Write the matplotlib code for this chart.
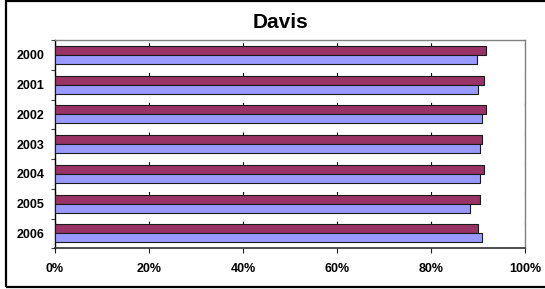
import numpy as np
import matplotlib
matplotlib.use("Agg")
import matplotlib.pyplot as plt
from matplotlib.patches import Rectangle
from matplotlib.ticker import FixedLocator, NullFormatter

plt.rcParams["font.family"] = ["Liberation Sans", "DejaVu Sans"]
plt.rcParams["lines.scale_dashes"] = False

years = ["2000", "2001", "2002", "2003", "2004", "2005", "2006"]
series_a = [91.8, 91.2, 91.7, 90.8, 91.3, 90.5, 89.9]   # maroon, upper bar
series_b = [89.7, 90.1, 90.8, 90.4, 90.4, 88.2, 90.9]   # lavender, lower bar
xticks = [0, 20, 40, 60, 80, 100]
xtick_labels = ["0%", "20%", "40%", "60%", "80%", "100%"]

W, H = 545, 289
fig = plt.figure(figsize=(W / 100, H / 100), dpi=100)
ax = fig.add_axes([55 / W, 1 - 248.3 / H, 470 / W, 208.3 / H])

y = np.arange(len(years))
bh = 0.3
ax.barh(y - bh / 2, series_a, height=bh, color="#993366",
        edgecolor="#1a1a1a", linewidth=0.8, zorder=3)
ax.barh(y + bh / 2, series_b, height=bh, color="#9999FF",
        edgecolor="#1a1a1a", linewidth=0.8, zorder=3)

ax.set_xlim(0, 100)
ax.set_ylim(len(years) - 0.5, -0.5)

ax.set_xticks(xticks)
ax.set_xticklabels(xtick_labels, fontsize=9, fontweight="bold")
ax.tick_params(axis="x", direction="out", length=3.6, width=0.8,
               color="#202020", pad=7)

# category boundaries as major ticks, labels on minor ticks at centres
ax.yaxis.set_major_locator(FixedLocator(np.arange(-0.5, len(years), 1.0)))
ax.yaxis.set_major_formatter(NullFormatter())
ax.yaxis.set_minor_locator(FixedLocator(y))
ax.set_yticklabels(years, minor=True, fontsize=9, fontweight="bold")
ax.tick_params(axis="y", which="major", direction="out", length=2.6,
               width=0.8, color="#404040")
ax.tick_params(axis="y", which="minor", length=0, pad=7.7)

# dashed vertical gridlines, visible only just below each category edge
ax.grid(axis="x", color="#000000", linewidth=0.8,
        linestyle=(5.0, (2.9, 18.5)), zorder=1)

ax.spines["left"].set_color("#000000")
ax.spines["left"].set_linewidth(1.0)
ax.spines["bottom"].set_color("#303030")
ax.spines["bottom"].set_linewidth(1.2)
for side in ("top", "right"):
    ax.spines[side].set_color("#808080")
    ax.spines[side].set_linewidth(1.0)

fig.text(280 / W, 1 - 23 / H, "Davis", ha="center", va="center",
         fontsize=15, fontweight="bold")

# outer chart frame (right edge is cut off in the original)
fig.patches.append(Rectangle((6 / W, 1 - 286.5 / H), 560 / W, 285.2 / H,
                             transform=fig.transFigure, fill=False,
                             edgecolor="black", linewidth=1.6))

fig.savefig("out.png", dpi=100)
